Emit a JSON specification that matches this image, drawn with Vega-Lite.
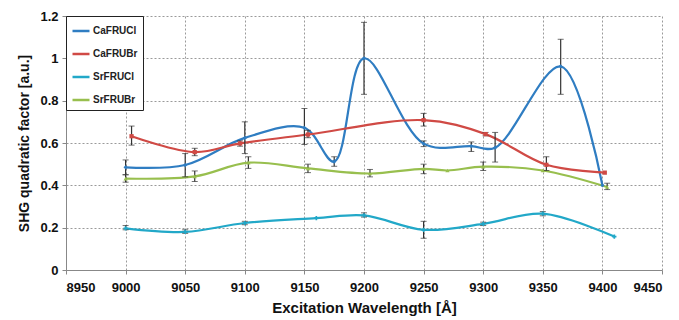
{
  "$schema": "https://vega.github.io/schema/vega-lite/v6.json",
  "width": 596,
  "height": 254,
  "autosize": {"type": "none"},
  "padding": {"left": 66, "top": 16, "right": 17, "bottom": 50},
  "background": "white",
  "config": {
    "view": {"stroke": null},
    "font": "Liberation Sans",
    "axis": {
      "labelFont": "Liberation Sans",
      "labelFontWeight": "bold",
      "labelFontSize": 13,
      "labelColor": "#111",
      "titleFont": "Liberation Sans",
      "titleFontWeight": "bold",
      "titleFontSize": 14,
      "titleColor": "#111",
      "gridColor": "#9a9a9a",
      "gridDash": [2, 2],
      "gridWidth": 1,
      "domainColor": "#888",
      "tickColor": "#888",
      "tickSize": 4
    }
  },
  "datasets": {
    "pts": [
      {"series": "CaFRUCl", "wl": 9000, "v": 0.485, "lo": 0.45, "hi": 0.52},
      {"series": "CaFRUCl", "wl": 9050, "v": 0.496, "lo": 0.44, "hi": 0.55},
      {"series": "CaFRUCl", "wl": 9100, "v": 0.624, "lo": 0.55, "hi": 0.70},
      {"series": "CaFRUCl", "wl": 9150, "v": 0.672, "lo": 0.593, "hi": 0.763},
      {"series": "CaFRUCl", "wl": 9175, "v": 0.512, "lo": 0.49, "hi": 0.535},
      {"series": "CaFRUCl", "wl": 9200, "v": 1.0, "lo": 0.83, "hi": 1.17},
      {"series": "CaFRUCl", "wl": 9250, "v": 0.597, "lo": 0.583, "hi": 0.61},
      {"series": "CaFRUCl", "wl": 9290, "v": 0.585, "lo": 0.56, "hi": 0.605},
      {"series": "CaFRUCl", "wl": 9310, "v": 0.578, "lo": 0.51, "hi": 0.65},
      {"series": "CaFRUCl", "wl": 9365, "v": 0.962, "lo": 0.83, "hi": 1.09},
      {"series": "CaFRUCl", "wl": 9400, "v": 0.40},
      {"series": "CaFRUBr", "wl": 9005, "v": 0.632, "lo": 0.59, "hi": 0.68},
      {"series": "CaFRUBr", "wl": 9058, "v": 0.557, "lo": 0.54, "hi": 0.575},
      {"series": "CaFRUBr", "wl": 9096, "v": 0.598, "lo": 0.585, "hi": 0.61},
      {"series": "CaFRUBr", "wl": 9153, "v": 0.64, "lo": 0.625, "hi": 0.66},
      {"series": "CaFRUBr", "wl": 9250, "v": 0.708, "lo": 0.68, "hi": 0.74},
      {"series": "CaFRUBr", "wl": 9302, "v": 0.642, "lo": 0.634, "hi": 0.65},
      {"series": "CaFRUBr", "wl": 9353, "v": 0.497, "lo": 0.47, "hi": 0.535},
      {"series": "CaFRUBr", "wl": 9402, "v": 0.46},
      {"series": "SrFRUCl", "wl": 9000, "v": 0.197, "lo": 0.19, "hi": 0.21},
      {"series": "SrFRUCl", "wl": 9050, "v": 0.18, "lo": 0.173, "hi": 0.19},
      {"series": "SrFRUCl", "wl": 9100, "v": 0.222, "lo": 0.214, "hi": 0.23},
      {"series": "SrFRUCl", "wl": 9160, "v": 0.245},
      {"series": "SrFRUCl", "wl": 9200, "v": 0.258, "lo": 0.25, "hi": 0.27},
      {"series": "SrFRUCl", "wl": 9250, "v": 0.19, "lo": 0.15, "hi": 0.23},
      {"series": "SrFRUCl", "wl": 9300, "v": 0.218, "lo": 0.21, "hi": 0.226},
      {"series": "SrFRUCl", "wl": 9350, "v": 0.266, "lo": 0.256, "hi": 0.276},
      {"series": "SrFRUCl", "wl": 9410, "v": 0.158},
      {"series": "SrFRUBr", "wl": 9000, "v": 0.432, "lo": 0.415, "hi": 0.45},
      {"series": "SrFRUBr", "wl": 9058, "v": 0.442, "lo": 0.418, "hi": 0.468},
      {"series": "SrFRUBr", "wl": 9103, "v": 0.507, "lo": 0.48, "hi": 0.535},
      {"series": "SrFRUBr", "wl": 9153, "v": 0.48, "lo": 0.46, "hi": 0.5},
      {"series": "SrFRUBr", "wl": 9205, "v": 0.456, "lo": 0.44, "hi": 0.475},
      {"series": "SrFRUBr", "wl": 9250, "v": 0.478, "lo": 0.455, "hi": 0.5},
      {"series": "SrFRUBr", "wl": 9270, "v": 0.47},
      {"series": "SrFRUBr", "wl": 9300, "v": 0.488, "lo": 0.47, "hi": 0.51},
      {"series": "SrFRUBr", "wl": 9350, "v": 0.47},
      {"series": "SrFRUBr", "wl": 9404, "v": 0.392, "lo": 0.38, "hi": 0.41}
    ]
  },
  "data": {"name": "pts"},
  "encoding": {
    "x": {
      "field": "wl", "type": "quantitative",
      "scale": {"domain": [8950, 9450], "nice": false, "zero": false},
      "axis": {
        "title": "Excitation Wavelength [Å]",
        "values": [8950, 9000, 9050, 9100, 9150, 9200, 9250, 9300, 9350, 9400, 9450],
        "format": "d",
        "labelPadding": 7,
        "titlePadding": 6,
        "titleFontSize": 15
      }
    }
  },
  "resolve": {"legend": {"shape": "independent", "color": "independent"}},
  "layer": [
    {
      "mark": {"type": "line", "interpolate": "catmull-rom", "strokeWidth": 2.2},
      "encoding": {
        "y": {
          "field": "v", "type": "quantitative",
          "title": "SHG quadratic factor [a.u.]",
          "scale": {"domain": [0, 1.2], "nice": false},
          "axis": {
            "title": "SHG quadratic factor [a.u.]",
            "values": [0, 0.2, 0.4, 0.6, 0.8, 1, 1.2],
            "format": "~g",
            "labelPadding": 4,
            "titlePadding": 8
          }
        },
        "color": {
          "field": "series", "type": "nominal",
          "scale": {
            "domain": ["CaFRUCl", "CaFRUBr", "SrFRUCl", "SrFRUBr"],
            "range": ["#2f7dc2", "#d04a45", "#22a8c8", "#98bf4e"]
          },
          "legend": {
            "title": null,
            "orient": "top-left",
            "offset": 0,
            "symbolType": "stroke",
            "symbolSize": 289,
            "symbolStrokeWidth": 2.5,
            "labelFont": "Liberation Sans",
            "labelFontWeight": "bold",
            "labelFontSize": 10,
            "labelColor": "#222",
            "rowPadding": 8,
            "padding": 5,
            "strokeColor": "#222",
            "fillColor": "white",
            "labelOffset": 2
          }
        }
      }
    },
    {
      "transform": [{"filter": "isValid(datum.lo)"}],
      "mark": {"type": "errorbar", "ticks": {"size": 6, "color": "#333"}, "color": "#333"},
      "encoding": {
        "y": {"field": "lo", "type": "quantitative", "title": "SHG quadratic factor [a.u.]"},
        "y2": {"field": "hi"},
        "strokeWidth": {"value": 1.2}
      }
    },
    {
      "mark": {"type": "point", "filled": true, "size": 18, "opacity": 1},
      "encoding": {
        "y": {"field": "v", "type": "quantitative", "title": "SHG quadratic factor [a.u.]"},
        "fill": {
          "field": "series", "type": "nominal",
          "scale": {
            "domain": ["CaFRUCl", "CaFRUBr", "SrFRUCl", "SrFRUBr"],
            "range": ["#2f7dc2", "#d04a45", "#22a8c8", "#98bf4e"]
          },
          "legend": null
        },
        "shape": {
          "field": "series", "type": "nominal",
          "scale": {
            "domain": ["CaFRUCl", "CaFRUBr", "SrFRUCl", "SrFRUBr"],
            "range": ["diamond", "square", "cross", "triangle-up"]
          },
          "legend": null
        }
      }
    }
  ]
}
